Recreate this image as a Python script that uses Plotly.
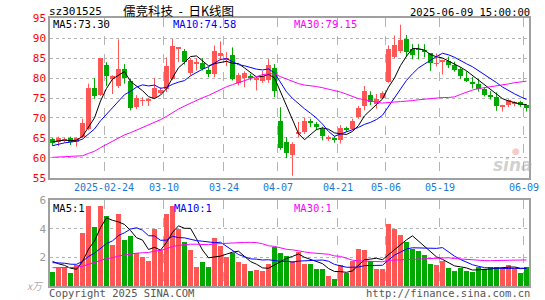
import plotly.graph_objects as go

# ---------------- data ----------------
dates = [
    "2025-02-11", "2025-02-12", "2025-02-13", "2025-02-14", "2025-02-17", "2025-02-18", "2025-02-19",
    "2025-02-20", "2025-02-21", "2025-02-24", "2025-02-25", "2025-02-26", "2025-02-27", "2025-02-28",
    "2025-03-03", "2025-03-04", "2025-03-05", "2025-03-06", "2025-03-07", "2025-03-10", "2025-03-11",
    "2025-03-12", "2025-03-13", "2025-03-14", "2025-03-17", "2025-03-18", "2025-03-19", "2025-03-20",
    "2025-03-21", "2025-03-24", "2025-03-25", "2025-03-26", "2025-03-27", "2025-03-28", "2025-03-31",
    "2025-04-01", "2025-04-02", "2025-04-03", "2025-04-07", "2025-04-08", "2025-04-09", "2025-04-10",
    "2025-04-11", "2025-04-14", "2025-04-15", "2025-04-16", "2025-04-17", "2025-04-18", "2025-04-21",
    "2025-04-22", "2025-04-23", "2025-04-24", "2025-04-25", "2025-04-28", "2025-04-29", "2025-04-30",
    "2025-05-06", "2025-05-07", "2025-05-08", "2025-05-09", "2025-05-12", "2025-05-13", "2025-05-14",
    "2025-05-15", "2025-05-16", "2025-05-19", "2025-05-20", "2025-05-21", "2025-05-22", "2025-05-23",
    "2025-05-26", "2025-05-27", "2025-05-28", "2025-05-29", "2025-05-30", "2025-06-03", "2025-06-04",
    "2025-06-05", "2025-06-06", "2025-06-09",
]

opens = [64.6, 64.0, 64.2, 65.0, 63.8, 65.2, 67.2, 77.5, 75.8, 83.2,
         79.8, 77.9, 82.3, 79.2, 72.7, 74.2, 74.3, 75.0, 76.3, 77.3,
         79.8, 87.3, 86.8, 81.1, 83.6, 83.8, 81.9, 80.9, 85.7, 84.7,
         85.7, 78.6, 80.0, 80.4, 79.6, 79.3, 79.4, 82.4, 69.1, 63.9,
         60.6, 66.0, 66.5, 69.0, 68.5, 67.1, 64.7, 64.8, 64.4, 67.3,
         67.2, 70.2, 72.8, 75.7, 73.3, 75.0, 79.0, 85.3, 86.7, 89.7,
         87.1, 87.2, 87.0, 86.3, 83.5, 84.1, 84.2, 83.3, 82.1, 79.9,
         78.8, 78.5, 77.3, 75.5, 75.3, 72.8, 73.1, 73.6, 73.9, 73.1]

highs = [65.0, 65.3, 65.0, 65.3, 65.2, 69.8, 78.6, 80.0, 85.1, 84.0,
         80.7, 89.7, 83.5, 79.8, 75.7, 75.2, 75.0, 80.0, 77.7, 85.2,
         89.8, 87.8, 87.3, 85.0, 85.0, 85.0, 82.8, 88.2, 89.2, 86.5,
         87.7, 81.3, 81.7, 81.1, 80.2, 81.8, 84.8, 83.5, 72.7, 65.2,
         63.9, 69.0, 70.0, 69.8, 69.0, 67.8, 65.6, 65.5, 68.2, 67.8,
         69.8, 73.0, 78.0, 76.7, 76.0, 76.7, 88.2, 90.7, 93.4, 90.8,
         88.5, 88.5, 88.5, 86.3, 86.2, 84.6, 85.4, 84.1, 82.7, 81.7,
         80.3, 79.8, 77.7, 76.8, 76.4, 73.3, 74.7, 74.2, 74.3, 73.4]

lows = [63.0, 62.9, 63.8, 63.2, 62.8, 64.9, 66.9, 74.8, 75.5, 78.0,
        76.0, 77.5, 78.6, 71.9, 72.2, 73.0, 73.0, 74.8, 76.0, 76.5,
        79.5, 84.0, 83.4, 80.7, 81.9, 81.9, 80.2, 80.2, 84.4, 83.0,
        79.4, 78.2, 77.7, 79.4, 76.9, 78.8, 78.8, 75.2, 62.0, 59.9,
        55.5, 65.2, 66.0, 67.7, 66.9, 64.4, 64.2, 63.8, 63.6, 66.5,
        66.9, 69.8, 71.9, 73.2, 72.3, 74.7, 78.8, 85.0, 86.3, 85.3,
        84.7, 84.7, 85.2, 81.8, 82.9, 80.9, 82.5, 81.6, 79.8, 79.0,
        77.4, 76.6, 75.4, 74.6, 71.8, 71.6, 72.7, 72.9, 72.8, 71.6]

closes = [63.7, 65.0, 64.7, 63.8, 64.8, 68.6, 77.5, 75.4, 85.0, 80.5,
          80.4, 82.3, 80.0, 72.5, 75.0, 74.4, 74.8, 77.5, 76.9, 83.0,
          88.0, 87.6, 84.0, 84.4, 83.8, 82.3, 80.9, 86.7, 86.1, 85.0,
          79.8, 80.7, 81.1, 80.0, 79.8, 80.4, 83.3, 76.8, 62.4, 61.2,
          63.4, 66.5, 69.2, 68.7, 67.7, 65.3, 64.9, 64.6, 67.3, 67.1,
          69.2, 72.3, 76.7, 73.8, 74.8, 76.1, 87.2, 88.2, 89.4, 86.5,
          85.8, 87.0, 86.4, 83.8, 83.7, 84.3, 83.3, 82.0, 80.4, 79.1,
          78.5, 77.3, 75.6, 75.4, 72.8, 73.1, 74.4, 73.9, 73.1, 72.3]

volumes = [0.98, 1.26, 1.26, 0.90, 1.44, 3.70, 5.56, 4.10, 5.56, 4.86,
           2.84, 5.00, 3.20, 3.47, 2.33, 2.02, 1.72, 3.95, 2.49, 5.00,
           5.56, 4.00, 3.07, 2.49, 1.33, 1.65, 1.30, 3.35, 2.79, 2.02,
           2.33, 1.65, 1.51, 1.02, 1.09, 1.05, 1.51, 2.72, 2.30, 2.07,
           1.72, 2.37, 1.56, 1.51, 1.16, 1.20, 0.67, 0.51, 1.49, 0.90,
           1.72, 2.56, 2.49, 1.72, 1.20, 1.20, 4.30, 3.95, 3.58, 3.07,
           2.60, 2.42, 2.14, 1.56, 1.44, 1.72, 1.28, 1.02, 1.23, 1.05,
           0.98, 1.33, 1.20, 1.35, 1.33, 1.26, 1.44, 1.26, 0.90, 1.33]

# closes / volumes of the 29 sessions before the first visible candle,
# estimated so that the moving-average lines start where the picture shows
pre_closes = [63.0, 62.5, 63.5, 63.0, 63.0, 60.0, 59.0, 58.0, 57.5, 57.0,
              56.5, 56.0, 56.0, 55.5, 55.5, 56.0, 56.5, 57.0, 58.5, 59.0,
              61.0, 61.5, 62.0, 62.5, 63.3, 64.0, 63.5, 64.5, 64.3]
pre_volumes = [1.2, 1.0, 0.9, 1.1, 1.3, 1.0, 0.9, 1.2, 1.1, 1.0,
               1.3, 1.2, 1.0, 0.9, 1.1, 1.2, 1.0, 1.1, 1.3, 1.2,
               1.4, 1.5, 1.6, 1.5, 1.7, 2.1, 1.8, 1.9, 1.8]

tick_dates = ["2025-02-24", "2025-03-10", "2025-03-24", "2025-04-07",
              "2025-04-21", "2025-05-06", "2025-05-19", "2025-06-09"]
tick_labels = ["2025-02-24", "03-10", "03-24", "04-07", "04-21", "05-06", "05-19", "06-09"]
price_ticks = [55, 60, 65, 70, 75, 80, 85, 90, 95]
vol_ticks = [2, 4, 6]

code_text = "sz301525"
title_text = "儒竞科技&nbsp;&nbsp;-&nbsp;&nbsp;日K线图"
time_text = "2025-06-09 15:00:00"
ma_price_labels = ["MA5:73.30", "MA10:74.58", "MA30:79.15"]
ma_vol_labels = ["MA5:1", "MA10:1", "MA30:1"]

# ---------------- helpers ----------------
def moving_average(pre, vals, n):
    full = list(pre) + list(vals)
    off = len(pre)
    out = []
    for i in range(len(vals)):
        j = off + i
        out.append(sum(full[j - n + 1:j + 1]) / n)
    return out

RED = "#ff5656"
GREEN = "#00a800"
MONO = "DejaVu Sans Mono"

n = len(dates)
idx = list(range(n))
up = [c >= o for o, c in zip(opens, closes)]
colors = [RED if u else GREEN for u in up]
tickpos = [dates.index(d) - 0.42 for d in tick_dates]

fig = go.Figure()

# wicks
for want, col in ((True, RED), (False, GREEN)):
    wx, wy = [], []
    for i in idx:
        if up[i] == want:
            wx += [i, i, None]
            wy += [lows[i], highs[i], None]
    fig.add_trace(go.Scatter(x=wx, y=wy, mode="lines", line=dict(color=col, width=1),
                             xaxis="x", yaxis="y", hoverinfo="skip"))

# bodies
body_base = [min(o, c) for o, c in zip(opens, closes)]
body_h = [max(abs(c - o), 0.15) for o, c in zip(opens, closes)]
fig.add_trace(go.Bar(x=idx, y=body_h, base=body_base, width=0.82,
                     marker=dict(color=colors, line=dict(width=0)),
                     xaxis="x", yaxis="y"))

# price MAs
for nd, col in ((5, "#000000"), (10, "#0000ff"), (30, "#ff00ff")):
    fig.add_trace(go.Scatter(x=idx, y=moving_average(pre_closes, closes, nd), mode="lines",
                             line=dict(color=col, width=1), xaxis="x", yaxis="y"))

# volume bars
fig.add_trace(go.Bar(x=idx, y=volumes, width=0.82,
                     marker=dict(color=colors, line=dict(width=0)),
                     xaxis="x2", yaxis="y2"))
for nd, col in ((5, "#000000"), (10, "#0000ff"), (30, "#ff00ff")):
    fig.add_trace(go.Scatter(x=idx, y=moving_average(pre_volumes, volumes, nd), mode="lines",
                             line=dict(color=col, width=1), xaxis="x2", yaxis="y2"))

W, H = 545, 300
xd = [50 / W, 529 / W]
xr = [-0.42, n - 1 + 0.42]
border = "#a0a0a0"
grid = "#b4b4b4"

fig.update_layout(
    width=W, height=H, margin=dict(l=0, r=0, t=0, b=0), autosize=False,
    paper_bgcolor="white", plot_bgcolor="white", showlegend=False, bargap=0,
    xaxis=dict(domain=xd, range=xr, anchor="y", tickvals=tickpos, ticktext=tick_labels,
               tickfont=dict(family=MONO, size=10, color="#1a7ad0"), ticks="",
               showgrid=True, gridcolor=grid, griddash="dash", gridwidth=1,
               showline=True, mirror=True, linecolor=border, linewidth=1.5,
               zeroline=False, automargin=False, fixedrange=True),
    yaxis=dict(domain=[(H - 177.7) / H, (H - 18.3) / H], range=[55, 95], anchor="x",
               tickvals=price_ticks, ticktext=[str(t) for t in price_ticks],
               tickfont=dict(family=MONO, size=11, color="#ff0000"), ticks="",
               showgrid=True, gridcolor=grid, griddash="dot", gridwidth=1,
               showline=True, mirror=True, linecolor=border, linewidth=1.5,
               zeroline=False, automargin=False),
    xaxis2=dict(domain=xd, range=xr, anchor="y2", tickvals=tickpos, showticklabels=False,
                ticks="", showgrid=True, gridcolor=grid, griddash="dash", gridwidth=1,
                showline=True, mirror=True, linecolor=border, linewidth=1.5,
                zeroline=False, automargin=False),
    yaxis2=dict(domain=[(H - 286) / H, (H - 200) / H], range=[0, 6], anchor="x2",
                tickvals=vol_ticks, ticktext=[str(t) for t in vol_ticks],
                tickfont=dict(family=MONO, size=11, color="#999999"), ticks="",
                showgrid=True, gridcolor=grid, griddash="dot", gridwidth=1,
                showline=True, mirror=True, linecolor=border, linewidth=1.5,
                zeroline=False, automargin=False),
)

def px_ann(text, x, y, anchor="left", color="#000000", size=10, family=MONO, **kw):
    fig.add_annotation(text=text, x=x / W, y=(H - y) / H, xref="paper", yref="paper",
                       xanchor=anchor, yanchor="middle", showarrow=False,
                       font=dict(family=family, size=size, color=color), borderpad=0, **kw)

px_ann(code_text, 48, 11.5, size=11)
px_ann(title_text, 178, 11, anchor="center", size=12.5, family="Noto Sans CJK SC")
px_ann(time_text, 531, 12, anchor="right", size=10.5)
for lab, x, col in zip(ma_price_labels, (52, 172, 293), ("#000000", "#0000ff", "#ff00ff")):
    px_ann(lab, x, 24, color=col, size=10.5)
for lab, x, col in zip(ma_vol_labels, (52, 173, 293), ("#000000", "#0000ff", "#ff00ff")):
    px_ann(lab, x, 207.5, color=col, size=10.5)
px_ann("<i>x万</i>", 45, 285.5, anchor="right", color="#aaaaaa", size=10, family="Noto Sans CJK SC")
px_ann("Copyright 2025 SINA.COM", 48, 292.5, color="#555555", size=10.5)
px_ann("http://finance.sina.com.cn", 531, 292.5, anchor="right", color="#555555", size=10.5)
px_ann("<b><i>sina</i></b>", 513, 165, anchor="center", color="rgba(170,170,170,0.55)",
       size=17, family="DejaVu Sans")
px_ann("●", 516, 151, anchor="center", color="rgba(240,150,150,0.5)", size=9, family="DejaVu Sans")

fig.write_html("out.html", config={"displayModeBar": False},
               post_script="document.body.style.margin='0';document.body.style.padding='0';")
